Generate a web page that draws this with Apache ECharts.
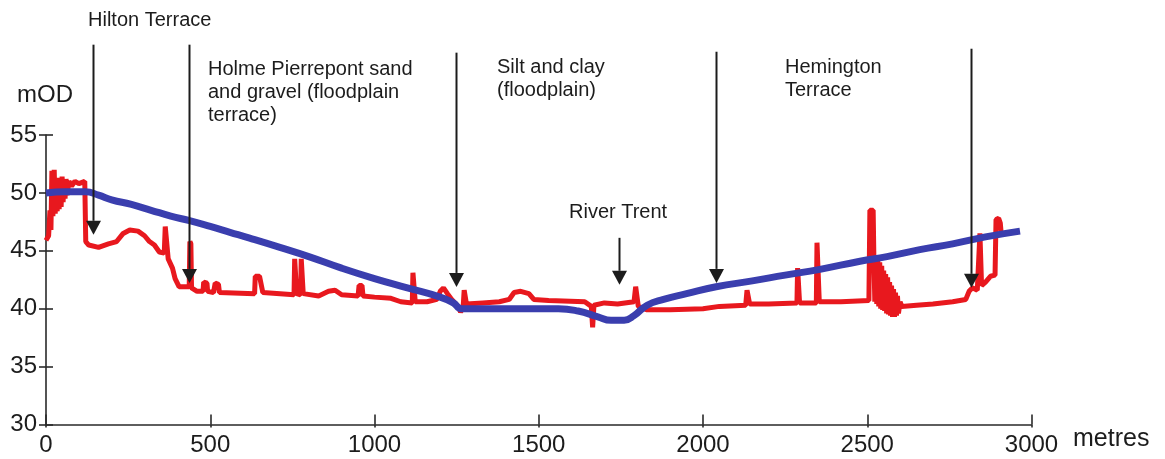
<!DOCTYPE html>
<html>
<head>
<meta charset="utf-8">
<script src="https://cdn.jsdelivr.net/npm/echarts@6/dist/echarts.min.js"></script>
<style>
  html, body { margin: 0; padding: 0; background: #fff; }
  #chart { width: 1165px; height: 459px; }
</style>
</head>
<body>
<div id="chart"></div>
<script>
// Cross-section across the Trent valley: distance (metres) vs elevation (mOD)
const xTicks = [0, 500, 1000, 1500, 2000, 2500, 3000];
const yTicks = [30, 35, 40, 45, 50, 55];

// Surveyed ground surface (noisy profile), [distance m, elevation mOD]
const groundProfile = [
  [0, 45.9], [8, 46.3], [12, 48.5], [15, 46.8], [18, 51.9], [21, 48.0], [25, 52.0],
  [28, 48.2], [31, 51.0], [34, 48.4], [37, 51.3], [40, 48.6], [43, 51.2], [46, 48.8],
  [49, 51.4], [52, 49.2], [55, 51.1], [58, 49.5], [61, 51.2], [64, 49.8], [70, 51.0],
  [78, 50.6], [88, 51.0], [100, 50.8], [118, 51.0], [121, 45.8], [130, 45.5], [160, 45.3],
  [190, 45.6], [215, 45.8], [235, 46.5], [255, 46.8], [280, 46.7], [300, 46.3],
  [315, 45.8], [330, 45.5], [345, 44.9], [360, 44.8], [363, 47.1], [369, 47.0],
  [372, 44.3], [385, 43.5], [393, 42.6], [405, 41.9], [436, 41.9], [438, 45.8],
  [441, 45.6], [443, 41.8], [460, 41.5], [478, 41.5], [480, 42.3], [490, 42.2],
  [492, 41.5], [510, 41.4], [515, 42.2], [525, 42.1], [528, 41.4], [635, 41.3],
  [637, 42.8], [650, 42.8], [660, 41.4], [755, 41.2], [757, 44.3], [761, 44.3],
  [763, 41.3], [775, 41.2], [777, 44.3], [781, 44.3], [783, 41.3], [830, 41.1],
  [860, 41.5], [880, 41.6], [900, 41.2], [950, 41.1], [953, 42.0], [962, 42.0],
  [965, 41.1], [1000, 41.0], [1050, 40.9], [1080, 40.6], [1115, 40.5], [1117, 43.1],
  [1122, 43.1], [1124, 40.6], [1160, 40.6], [1190, 40.8], [1200, 41.5], [1210, 41.8],
  [1222, 41.3], [1235, 40.8], [1255, 40.2], [1262, 39.7], [1270, 40.2], [1273, 41.6],
  [1278, 41.6], [1280, 40.4], [1330, 40.5], [1380, 40.6], [1410, 40.8], [1425, 41.4],
  [1445, 41.5], [1470, 41.3], [1485, 40.8], [1530, 40.7], [1640, 40.6], [1660, 40.2],
  [1664, 38.4], [1668, 40.3], [1700, 40.5], [1740, 40.4], [1790, 40.6], [1795, 41.9],
  [1800, 41.9], [1803, 40.2], [1830, 39.9], [1900, 39.9], [2000, 40.0], [2050, 40.2],
  [2130, 40.3], [2134, 41.6], [2139, 41.6], [2142, 40.4], [2200, 40.4], [2286, 40.5],
  [2288, 43.5], [2292, 43.5], [2294, 40.5], [2345, 40.5], [2347, 45.7], [2352, 45.7],
  [2354, 40.6], [2420, 40.6], [2505, 40.7], [2508, 48.5], [2518, 48.5], [2520, 44.7],
  [2523, 40.6], [2526, 44.6], [2529, 40.4], [2532, 44.3], [2535, 40.2], [2538, 44.0],
  [2541, 40.0], [2544, 43.7], [2547, 39.9], [2550, 43.3], [2553, 39.8], [2556, 43.0],
  [2559, 39.6], [2562, 42.7], [2565, 39.5], [2568, 42.3], [2571, 39.4], [2574, 42.0],
  [2577, 39.3], [2580, 41.7], [2583, 39.3], [2586, 41.4], [2589, 39.4], [2592, 41.1],
  [2595, 39.6], [2600, 40.6], [2605, 40.2], [2650, 40.3],
  [2700, 40.4], [2760, 40.6], [2800, 40.8], [2810, 41.5], [2820, 41.8], [2835, 41.6],
  [2843, 46.5], [2848, 42.0], [2860, 42.3], [2875, 42.8], [2889, 42.9], [2892, 47.7],
  [2900, 47.8], [2905, 47.4], [2908, 46.4]
];

// Generalised valley-floor profile, [distance m, elevation mOD]
const valleyProfile = [
  [0, 50.0], [60, 50.1], [120, 50.1], [160, 49.8], [200, 49.4], [260, 49.0],
  [320, 48.5], [380, 48.0], [437, 47.6], [500, 47.1], [560, 46.6], [620, 46.1],
  [712, 45.3], [800, 44.5], [900, 43.5], [1000, 42.6], [1100, 41.8], [1200, 41.0],
  [1240, 40.5], [1265, 40.0], [1400, 40.0], [1560, 40.0], [1620, 39.8], [1680, 39.3],
  [1720, 39.0], [1760, 39.0], [1790, 39.4], [1830, 40.3], [1880, 40.8], [1950, 41.3],
  [2040, 41.9], [2150, 42.4], [2250, 42.9], [2356, 43.4], [2478, 44.1], [2560, 44.5],
  [2660, 45.1], [2760, 45.6], [2860, 46.2], [2965, 46.7]
];

// Unit-boundary arrows: [x m, top mOD, tip mOD]
const arrows = [
  [142, 62.80, 46.38],
  [436, 62.80, 42.23],
  [1249, 62.11, 41.88],
  [2040, 62.19, 42.23],
  [1745, 46.12, 42.06],
  [2815, 62.45, 41.80]
];

const FONT = '"Liberation Sans", Arial, sans-serif';
const INK = '#1c1c1c';

const chart = echarts.init(document.getElementById('chart'), null, { renderer: 'canvas' });

const axisLineStyle = { color: '#2a2a2a', width: 1.6 };

chart.setOption({
  backgroundColor: '#ffffff',
  animation: false,
  grid: { left: 46, right: 133.5, top: 135, bottom: 34.5, containLabel: false },
  xAxis: [
    {
      type: 'value', min: xTicks[0], max: xTicks[xTicks.length - 1], interval: 500,
      position: 'bottom',
      axisLine: { show: true, lineStyle: axisLineStyle },
      axisTick: { show: true, inside: true, length: 10, lineStyle: axisLineStyle },
      axisLabel: { show: true, margin: 9, fontSize: 24, fontFamily: FONT, color: INK,
                   formatter: v => String(v) },
      splitLine: { show: false }
    },
    {
      type: 'value', min: xTicks[0], max: xTicks[xTicks.length - 1], interval: 500,
      position: 'bottom', offset: 0,
      axisLine: { show: false },
      axisTick: { show: true, inside: false, length: 3, lineStyle: axisLineStyle },
      axisLabel: { show: false },
      splitLine: { show: false }
    }
  ],
  yAxis: [
    {
      type: 'value', min: yTicks[0], max: yTicks[yTicks.length - 1], interval: 5,
      position: 'left',
      axisLine: { show: true, lineStyle: axisLineStyle },
      axisTick: { show: true, inside: true, length: 7, lineStyle: axisLineStyle },
      axisLabel: { show: true, margin: 9, fontSize: 24, fontFamily: FONT, color: INK },
      splitLine: { show: false }
    },
    {
      type: 'value', min: yTicks[0], max: yTicks[yTicks.length - 1], interval: 5,
      position: 'left', offset: 0,
      axisLine: { show: false },
      axisTick: { show: true, inside: false, length: 7, lineStyle: axisLineStyle },
      axisLabel: { show: false },
      splitLine: { show: false }
    }
  ],
  series: [
    {
      name: 'Ground surface', type: 'line', xAxisIndex: 0, yAxisIndex: 0,
      data: groundProfile, showSymbol: false, symbol: 'none', smooth: false,
      lineStyle: { color: '#e8181e', width: 5, join: 'bevel' }, z: 2
    },
    {
      name: 'Valley floor', type: 'line', xAxisIndex: 0, yAxisIndex: 0,
      data: valleyProfile, showSymbol: false, symbol: 'none', smooth: true,
      lineStyle: { color: '#3a3eae', width: 7, cap: 'butt' }, z: 3
    }
  ]
});

// Labels and arrows placed on top of the plot
function text(x, y, str, size, extra) {
  return {
    type: 'text', x: x, y: y, z: 10,
    style: Object.assign({ text: str, font: size + 'px ' + FONT, fill: INK,
                           textAlign: 'left', textVerticalAlign: 'middle' }, extra || {})
  };
}

const graphics = [
  text(88, 20.5, 'Hilton Terrace', 20),
  text(208, 57.5, 'Holme Pierrepont sand\nand gravel (floodplain\nterrace)', 20,
       { textVerticalAlign: 'top', lineHeight: 23 }),
  text(497, 55.5, 'Silt and clay\n(floodplain)', 20,
       { textVerticalAlign: 'top', lineHeight: 23 }),
  text(785, 55.5, 'Hemington\nTerrace', 20,
       { textVerticalAlign: 'top', lineHeight: 23 }),
  text(569, 212.5, 'River Trent', 20),
  text(17, 95, 'mOD', 24),
  text(1073, 439, 'metres', 25)
];

arrows.forEach(a => {
  const top = chart.convertToPixel({ gridIndex: 0 }, [a[0], a[1]]);
  const tip = chart.convertToPixel({ gridIndex: 0 }, [a[0], a[2]]);
  const x = Math.round(tip[0]) + 0.5;
  const headLen = 14, halfW = 7.5;
  const by = tip[1] - headLen;
  graphics.push({
    type: 'line', z: 10,
    shape: { x1: x, y1: top[1], x2: x, y2: by },
    style: { stroke: INK, lineWidth: 2 }
  });
  graphics.push({
    type: 'polygon', z: 10,
    shape: { points: [[x, tip[1]], [x - halfW, by], [x + halfW, by]] },
    style: { fill: INK, stroke: null }
  });
});

chart.setOption({ graphic: graphics });
</script>
</body>
</html>
